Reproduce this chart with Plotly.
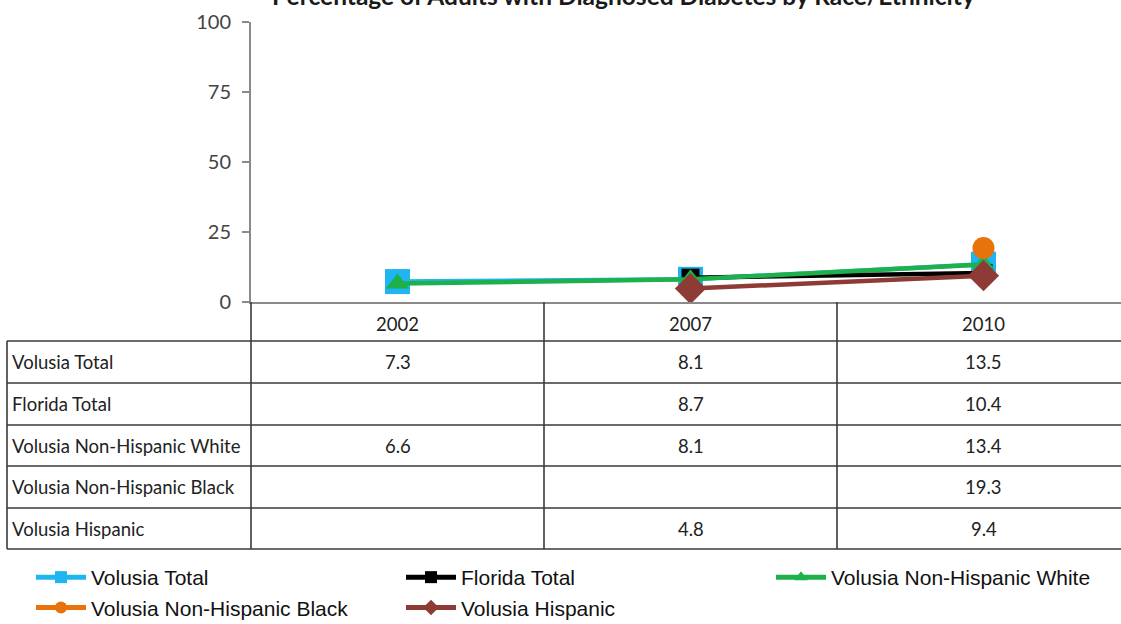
import plotly.graph_objects as go

# ---------------- data ----------------
years = ["2002", "2007", "2010"]
series_names = ["Volusia Total", "Florida Total", "Volusia Non-Hispanic White",
                "Volusia Non-Hispanic Black", "Volusia Hispanic"]
volusia_total = [7.3, 8.1, 13.5]
florida_total = [None, 8.7, 10.4]
volusia_nh_white = [6.6, 8.1, 13.4]
volusia_nh_black = [None, None, 19.3]
volusia_hispanic = [None, 4.8, 9.4]
y_ticks = [0, 25, 50, 75, 100]
title_text = "Percentage of Adults with Diagnosed Diabetes by Race/Ethnicity"

series_values = [volusia_total, florida_total, volusia_nh_white,
                 volusia_nh_black, volusia_hispanic]
colors = ["#1FB5F0", "#000000", "#1DB04B", "#E8720C", "#8E3B35"]
symbols = ["square", "square", "triangle-up", "circle", "diamond"]
msizes = [25, 18, 20, 22, 24]

W, H = 1121, 624
AX_X = 251          # y-axis pixel x
Y0, Y100 = 302, 22  # pixel y of 0 and 100
COLW = 293          # category width (px)


def px(x):
    return x / W


def py(y):
    return (H - y) / H


fig = go.Figure()
for name, vals, c, s, ms in zip(series_names, series_values, colors, symbols, msizes):
    fig.add_trace(go.Scatter(
        x=years, y=vals, name=name, mode="lines+markers",
        connectgaps=True,
        line=dict(color=c, width=4.5),
        marker=dict(color=c, symbol=s, size=ms),
        cliponaxis=False,
    ))

# ---------------- table ----------------
row_lines = [341, 383, 425, 466, 508, 549]
col_lines = [AX_X, AX_X + COLW, AX_X + 2 * COLW]
line_col = "#3A3A3A"
shapes = []
for ry in row_lines:
    shapes.append(dict(type="line", xref="paper", yref="paper",
                       x0=px(7), x1=1, y0=py(ry), y1=py(ry),
                       line=dict(color=line_col, width=1.6)))
shapes.append(dict(type="line", xref="paper", yref="paper",
                   x0=px(7), x1=px(7), y0=py(row_lines[0]), y1=py(row_lines[-1]),
                   line=dict(color=line_col, width=1.6)))
for cx in col_lines:
    shapes.append(dict(type="line", xref="paper", yref="paper",
                       x0=px(cx), x1=px(cx), y0=py(Y0), y1=py(row_lines[-1]),
                       line=dict(color=line_col, width=1.6)))

annotations = []
table_font = dict(family="Lato, Carlito, sans-serif", size=18.5, color="#222222")
for i, (name, vals) in enumerate(zip(series_names, series_values)):
    yc = (row_lines[i] + row_lines[i + 1]) / 2
    annotations.append(dict(text=name, xref="paper", yref="paper",
                            x=px(10), y=py(yc), xanchor="left", yanchor="middle",
                            showarrow=False, font=table_font))
    for j, v in enumerate(vals):
        if v is None:
            continue
        annotations.append(dict(text=f"{v:.1f}", xref="x", yref="paper",
                                x=j, y=py(yc), xanchor="center", yanchor="middle",
                                showarrow=False, font=table_font))

# clipped title at the top
annotations.append(dict(text=f"<b>{title_text}</b>", xref="paper", yref="paper",
                        x=px(624), y=py(-21), xanchor="center", yanchor="top",
                        showarrow=False,
                        font=dict(family="Lato, Carlito, sans-serif", size=24.5,
                                  color="#1a1a1a")))

fig.update_layout(
    width=W, height=H,
    margin=dict(l=0, r=0, t=0, b=0, autoexpand=False),
    paper_bgcolor="white", plot_bgcolor="white",
    shapes=shapes, annotations=annotations,
    showlegend=True,
    legend=dict(orientation="h", x=px(31), y=py(557), xanchor="left", yanchor="top",
                entrywidth=305, entrywidthmode="pixels", itemwidth=50,
                font=dict(family="Liberation Sans, Arial, sans-serif", size=21,
                          color="#111111"),
                itemsizing="constant", tracegroupgap=0,
                bgcolor="rgba(0,0,0,0)"),
    xaxis=dict(domain=[px(AX_X), 1], type="category", automargin=False,
               range=[-0.5, -0.5 + (W - AX_X) / COLW],
               showgrid=False, zeroline=False,
               showline=True, linecolor="#8A8A8A", linewidth=2,
               ticks="", ticklabelstandoff=5,
               tickfont=dict(family="Lato, Carlito, sans-serif", size=18.5,
                             color="#222222")),
    yaxis=dict(domain=[py(Y0), py(Y100)], range=[0, 100], automargin=False,
               tickvals=y_ticks, showgrid=False, zeroline=False,
               showline=True, linecolor="#8A8A8A", linewidth=2,
               ticks="outside", ticklen=7, tickcolor="#8A8A8A", tickwidth=2,
               ticklabelstandoff=7,
               tickfont=dict(family="Lato, Carlito, sans-serif", size=20,
                             color="#444444")),
)

fig.write_html("out.html", config={"displayModeBar": False},
               post_script="document.body.style.margin='0';document.body.style.overflow='hidden';")
